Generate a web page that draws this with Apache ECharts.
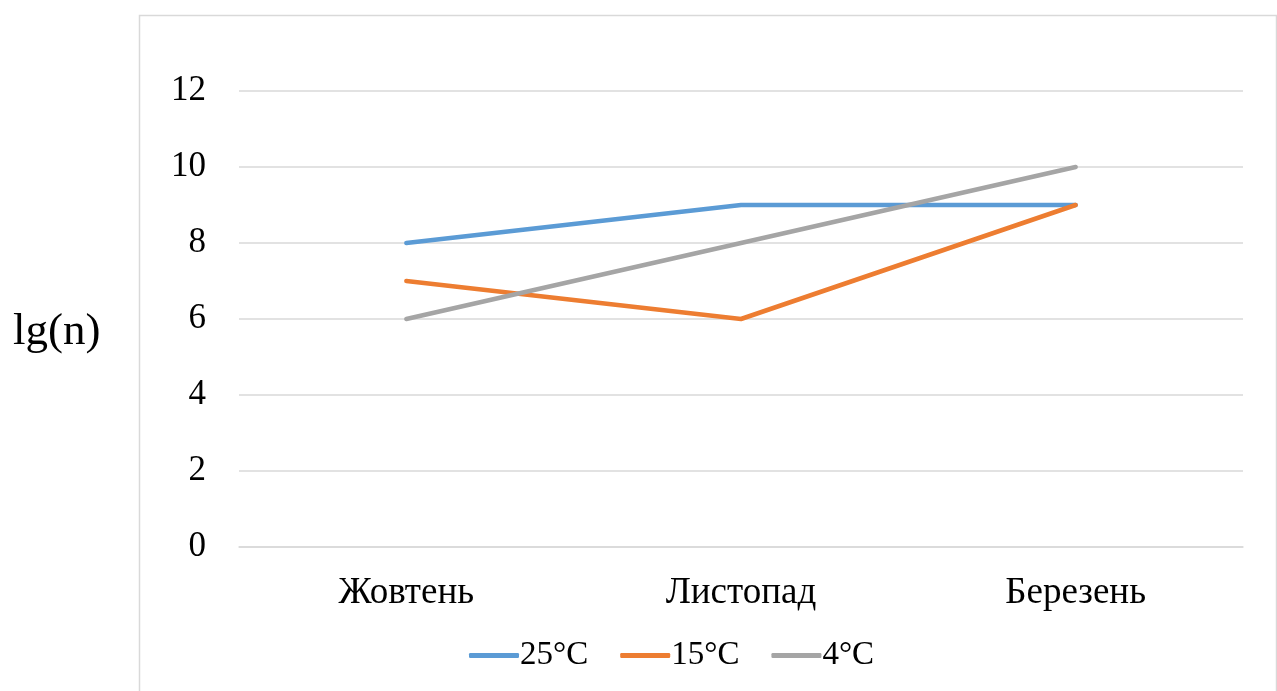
<!DOCTYPE html>
<html><head><meta charset="utf-8">
<script src="https://cdn.jsdelivr.net/npm/echarts@6/dist/echarts.min.js"></script>
<style>html,body{margin:0;padding:0;background:#fff}#c{width:1277px;height:691px}</style>
</head><body><div id="c"></div>
<script>
var categories = ['Жовтень', 'Листопад', 'Березень'];
var s25 = [8, 9, 9];
var s15 = [7, 6, 9];
var s4 = [6, 8, 10];
var seriesNames = ['25°C', '15°C', '4°C'];
var colors = ['#5B9BD5', '#ED7D31', '#A5A5A5'];
var font = '"Liberation Serif", "DejaVu Serif", serif';
var chart = echarts.init(document.getElementById('c'));
function mk(name, data, color) {
  return { name: name, type: 'line', data: data, symbol: 'none', smooth: false,
    lineStyle: { width: 4.5, color: color, cap: 'round' }, itemStyle: { color: color } };
}
chart.setOption({
  animation: false,
  textStyle: { fontFamily: font },
  graphic: [
    { type: 'rect', shape: { x: 139.5, y: 15.5, width: 1137, height: 700 },
      style: { fill: 'none', stroke: '#d9d9d9', lineWidth: 1.5 }, z: -1 },
    { type: 'text', left: 13, top: 310,
      style: { text: 'lg(n)', font: '45px ' + font, fill: '#000' } }
  ],
  grid: { left: 239, right: 34, top: 91, bottom: 144, containLabel: false },
  legend: {
    top: 634, left: 464, itemWidth: 50, itemHeight: 5, itemGap: 32,
    icon: 'roundRect',
    textStyle: { fontSize: 33, color: '#000', fontFamily: font, padding: [0, 0, 0, -4] },
    data: seriesNames
  },
  xAxis: {
    type: 'category', data: categories, boundaryGap: true,
    axisLine: { show: true, lineStyle: { color: '#d9d9d9', width: 1.5 } },
    axisTick: { show: false },
    axisLabel: { fontSize: 37, color: '#000', margin: 28, fontFamily: font }
  },
  yAxis: {
    type: 'value', min: 0, max: 12, interval: 2,
    axisLine: { show: false }, axisTick: { show: false },
    splitLine: { lineStyle: { color: '#d9d9d9', width: 1.5 } },
    axisLabel: { fontSize: 35, color: '#000', margin: 33, fontFamily: font }
  },
  series: [ mk(seriesNames[0], s25, colors[0]), mk(seriesNames[1], s15, colors[1]), mk(seriesNames[2], s4, colors[2]) ]
});
</script></body></html>
